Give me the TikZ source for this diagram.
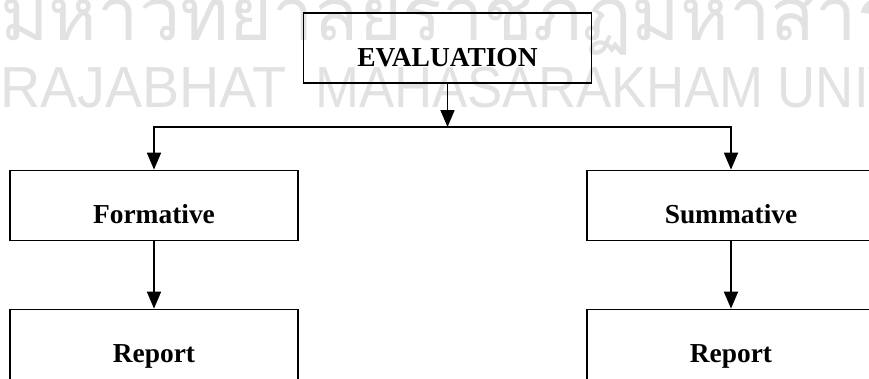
\documentclass[tikz,border=0pt]{standalone}
\usepackage{fontspec}
\setmainfont{Liberation Serif}
\newfontfamily\thaifont[Script=Thai]{Loma}
\newfontfamily\wmfont{Liberation Sans}
\usepackage{xcolor}
\usepackage{tikz}
\usetikzlibrary{arrows.meta}
\definecolor{wmgray}{RGB}{226,226,226}

\begin{document}
\begin{tikzpicture}[
    box/.style={draw, line width=1pt, minimum width=5.76cm, minimum height=1.40cm,
                inner sep=0pt, text height=0.72cm, text depth=0pt,
                font=\fontsize{15.6}{18}\selectfont\bfseries},
    arr/.style={line width=1pt, -{Triangle[length=0.34cm, width=0.28cm]}},
    wm/.style={wmgray, inner sep=0pt, anchor=base west}]
  \useasboundingbox (0,0) rectangle (17.38,-7.56);
  % watermark
  \begin{scope}
    \clip (0,0) rectangle (17.38,-7.56);
    \node[wm, font=\thaifont\fontsize{42}{42}\selectfont] (wmth) at (0,-0.8) {มหาวิทยาลัยราชภัฏมหาสารคาม};
    \foreach \x/\s/\w in {0.0/0.96/RAJABHAT, 6.3/0.91/MAHASARAKHAM, 15.55/0.91/UNIVERSITY}
      \node[wm, font=\wmfont\fontsize{33}{33}\selectfont, xscale=\s] (wm\w) at (\x,-2.14) {\w};
  \end{scope}
  % tree
  \node[box] (eval) at (8.95,-0.96) {EVALUATION};
  \coordinate (split) at (8.95,-2.54);
  \draw[arr] (eval) -- (split);
  \foreach \n/\x/\t in {form/3.08/Formative, summ/14.62/Summative} {
    \node[box] (\n) at (\x,-4.11) {\t};
    \node[box] (rep\n) at (\x,-6.89) {Report};
    \draw[arr] (split) -| (\n);
    \draw[arr] (\n) -- (rep\n);
  }
\end{tikzpicture}
\end{document}
